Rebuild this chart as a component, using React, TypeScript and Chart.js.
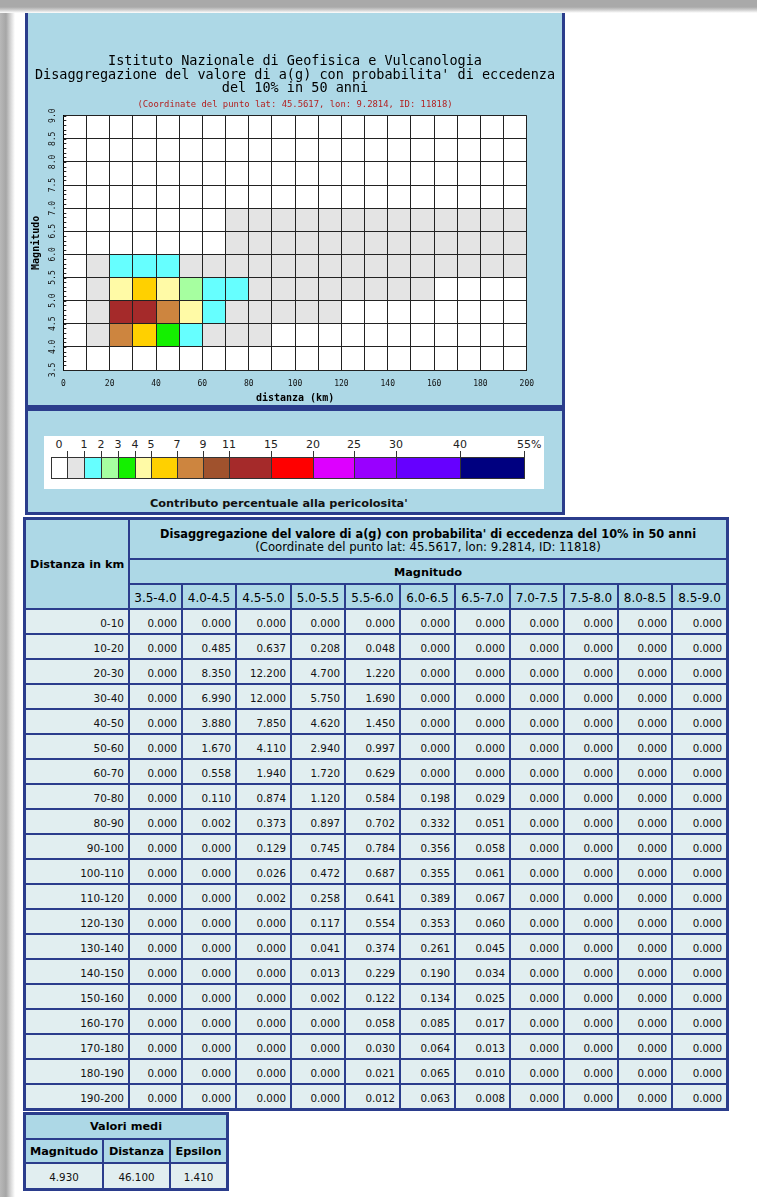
import { useEffect, useRef } from 'react';
import { Chart, registerables } from 'chart.js';

Chart.register(...registerables);

// ---- data -------------------------------------------------------------

const distanceBins = [
  '0-10', '10-20', '20-30', '30-40', '40-50', '50-60', '60-70', '70-80', '80-90', '90-100',
  '100-110', '110-120', '120-130', '130-140', '140-150', '150-160', '160-170', '170-180', '180-190', '190-200',
];

const magnitudeBins = [
  '3.5-4.0', '4.0-4.5', '4.5-5.0', '5.0-5.5', '5.5-6.0', '6.0-6.5',
  '6.5-7.0', '7.0-7.5', '7.5-8.0', '8.0-8.5', '8.5-9.0',
];

// percentage contribution, one row per distance bin, one column per magnitude bin
const contributionRows = [
  [0.000, 0.000, 0.000, 0.000, 0.000, 0.000, 0.000, 0.000, 0.000, 0.000, 0.000],
  [0.000, 0.485, 0.637, 0.208, 0.048, 0.000, 0.000, 0.000, 0.000, 0.000, 0.000],
  [0.000, 8.350, 12.200, 4.700, 1.220, 0.000, 0.000, 0.000, 0.000, 0.000, 0.000],
  [0.000, 6.990, 12.000, 5.750, 1.690, 0.000, 0.000, 0.000, 0.000, 0.000, 0.000],
  [0.000, 3.880, 7.850, 4.620, 1.450, 0.000, 0.000, 0.000, 0.000, 0.000, 0.000],
  [0.000, 1.670, 4.110, 2.940, 0.997, 0.000, 0.000, 0.000, 0.000, 0.000, 0.000],
  [0.000, 0.558, 1.940, 1.720, 0.629, 0.000, 0.000, 0.000, 0.000, 0.000, 0.000],
  [0.000, 0.110, 0.874, 1.120, 0.584, 0.198, 0.029, 0.000, 0.000, 0.000, 0.000],
  [0.000, 0.002, 0.373, 0.897, 0.702, 0.332, 0.051, 0.000, 0.000, 0.000, 0.000],
  [0.000, 0.000, 0.129, 0.745, 0.784, 0.356, 0.058, 0.000, 0.000, 0.000, 0.000],
  [0.000, 0.000, 0.026, 0.472, 0.687, 0.355, 0.061, 0.000, 0.000, 0.000, 0.000],
  [0.000, 0.000, 0.002, 0.258, 0.641, 0.389, 0.067, 0.000, 0.000, 0.000, 0.000],
  [0.000, 0.000, 0.000, 0.117, 0.554, 0.353, 0.060, 0.000, 0.000, 0.000, 0.000],
  [0.000, 0.000, 0.000, 0.041, 0.374, 0.261, 0.045, 0.000, 0.000, 0.000, 0.000],
  [0.000, 0.000, 0.000, 0.013, 0.229, 0.190, 0.034, 0.000, 0.000, 0.000, 0.000],
  [0.000, 0.000, 0.000, 0.002, 0.122, 0.134, 0.025, 0.000, 0.000, 0.000, 0.000],
  [0.000, 0.000, 0.000, 0.000, 0.058, 0.085, 0.017, 0.000, 0.000, 0.000, 0.000],
  [0.000, 0.000, 0.000, 0.000, 0.030, 0.064, 0.013, 0.000, 0.000, 0.000, 0.000],
  [0.000, 0.000, 0.000, 0.000, 0.021, 0.065, 0.010, 0.000, 0.000, 0.000, 0.000],
  [0.000, 0.000, 0.000, 0.000, 0.012, 0.063, 0.008, 0.000, 0.000, 0.000, 0.000],
];

// colour classes (percent); first colour is for an exact zero
const legendThresholds = [0, 1, 2, 3, 4, 5, 7, 9, 11, 15, 20, 25, 30, 40, 55];
const legendColors = [
  '#ffffff', '#e4e4e4', '#66ffff', '#a6ffa0', '#14f000', '#fffaa6', '#ffd000', '#cd853f',
  '#a0522d', '#a52a2a', '#ff0000', '#dd00ff', '#9900ff', '#6600ff', '#000080',
];

const meanMagnitude = 4.93;
const meanDistance = 46.1;
const meanEpsilon = 1.41;

const chartTitleLines = [
  'Istituto Nazionale di Geofisica e Vulcanologia',
  "Disaggregazione del valore di a(g) con probabilita' di eccedenza",
  'del 10% in 50 anni',
];
const pointInfo = '(Coordinate del punto lat: 45.5617, lon: 9.2814, ID: 11818)';
const tableTitle = "Disaggregazione del valore di a(g) con probabilita' di eccedenza del 10% in 50 anni";

// ---- styling ----------------------------------------------------------

const MONO = '"DejaVu Sans Mono", "Liberation Mono", monospace';
const SANS = '"DejaVu Sans", Verdana, sans-serif';
const BLUE = '#2b3d8c';
const HEAD_BG = '#add8e6';
const BODY_BG = '#e1eef0';

const legendBoxWidths = [16, 17, 17, 17, 17, 16, 26, 26, 26, 42, 42, 41, 42, 64, 64];
const magnitudeColWidths = [53, 54, 55, 54, 55, 55, 55, 54, 54, 54, 55];

function colorFor(v: number): string {
  if (v <= 0) return legendColors[0];
  for (let i = 0; i < legendThresholds.length - 1; i++) {
    if (v >= legendThresholds[i] && v < legendThresholds[i + 1]) return legendColors[i + 1];
  }
  return legendColors[legendColors.length - 1];
}

function HazardChart() {
  const ref = useRef<HTMLCanvasElement | null>(null);

  useEffect(() => {
    const canvas = ref.current;
    if (!canvas) return;

    const cells: any[] = [];
    distanceBins.forEach((dLabel, r) => {
      const [d0, d1] = dLabel.split('-').map(Number);
      magnitudeBins.forEach((mLabel, c) => {
        const [m0, m1] = mLabel.split('-').map(Number);
        cells.push({ x: (d0 + d1) / 2, y: (m0 + m1) / 2, d0, d1, m0, m1, v: contributionRows[r][c] });
      });
    });

    const cellPlugin = {
      id: 'cellFill',
      beforeDraw(chart: any) {
        const { ctx, chartArea } = chart;
        ctx.save();
        ctx.fillStyle = '#ffffff';
        ctx.fillRect(chartArea.left, chartArea.top, chartArea.right - chartArea.left, chartArea.bottom - chartArea.top);
        ctx.restore();
      },
      beforeDatasetsDraw(chart: any) {
        const { ctx } = chart;
        const xs = chart.scales.x;
        const ys = chart.scales.y;
        ctx.save();
        for (const c of chart.data.datasets[0].data) {
          const left = xs.getPixelForValue(c.d0);
          const right = xs.getPixelForValue(c.d1);
          const top = ys.getPixelForValue(c.m1);
          const bottom = ys.getPixelForValue(c.m0);
          ctx.fillStyle = colorFor(c.v);
          ctx.fillRect(left, top, right - left, bottom - top);
        }
        ctx.restore();
      },
      afterDraw(chart: any) {
        // short minor ticks every 0.1 along the magnitude axis
        const { ctx, chartArea } = chart;
        const ys = chart.scales.y;
        ctx.save();
        ctx.strokeStyle = '#222';
        ctx.lineWidth = 1;
        ctx.beginPath();
        for (let i = 0; i <= 55; i++) {
          const py = Math.round(ys.getPixelForValue(ys.min + i / 10)) + 0.5;
          ctx.moveTo(chartArea.left, py);
          ctx.lineTo(chartArea.left + 3, py);
        }
        ctx.stroke();
        ctx.restore();
      },
    };

    const chart = new Chart(canvas, {
      type: 'scatter',
      data: { datasets: [{ data: cells, pointRadius: 0, pointHoverRadius: 0 }] },
      options: {
        responsive: false,
        animation: false,
        events: [],
        layout: { padding: 0 },
        plugins: {
          legend: { display: false },
          tooltip: { enabled: false },
          title: {
            display: true,
            text: chartTitleLines,
            color: '#000',
            font: { family: MONO, size: 13.5, weight: 'normal', lineHeight: 0.985 },
            padding: { top: 42.2, bottom: 2 },
          },
          subtitle: {
            display: true,
            text: pointInfo,
            color: '#b22222',
            font: { family: MONO, size: 8.9, weight: 'normal', lineHeight: 1.2 },
            padding: { top: 2, bottom: 5.9 },
          },
        },
        scales: {
          x: {
            type: 'linear',
            min: 0,
            max: 200,
            afterFit(s: any) {
              s.height = 35;
              s.paddingLeft = 0;
              s.paddingRight = 35.2;
            },
            ticks: {
              stepSize: 10,
              autoSkip: false,
              minRotation: 0,
              maxRotation: 0,
              padding: 9.5,
              color: '#111',
              font: { family: MONO, size: 8 },
              callback: (v: any) => (Number(v) % 20 === 0 ? String(v) : ''),
            },
            grid: { color: '#222', lineWidth: 1, drawTicks: false, z: 1 },
            border: { color: '#000', z: 1 },
            title: {
              display: true,
              text: 'distanza (km)',
              color: '#000',
              font: { family: MONO, size: 10, weight: 'bold', lineHeight: 1.2 },
              padding: { top: 0, bottom: 0.4 },
            },
          },
          y: {
            type: 'linear',
            min: 3.5,
            max: 9,
            afterFit(s: any) {
              s.width = 35.3;
              s.paddingTop = 0;
              s.paddingBottom = 0;
            },
            ticks: {
              stepSize: 0.5,
              autoSkip: false,
              minRotation: 90,
              maxRotation: 90,
              crossAlign: 'center',
              padding: 3.3,
              color: '#111',
              font: { family: MONO, size: 8 },
              callback: (v: any) => Number(v).toFixed(1),
            },
            grid: { color: '#222', lineWidth: 1, drawTicks: false, z: 1 },
            border: { color: '#000', z: 1 },
            title: {
              display: true,
              text: 'Magnitudo',
              color: '#000',
              font: { family: MONO, size: 10, weight: 'bold', lineHeight: 1.2 },
              padding: { top: 2.7, bottom: 0 },
            },
          },
        },
      } as any,
      plugins: [cellPlugin],
    });

    return () => chart.destroy();
  }, []);

  return (
    <canvas
      ref={ref}
      width={534}
      height={392}
      style={{ position: 'absolute', left: 28, top: 13, width: 534, height: 392, background: HEAD_BG }}
    />
  );
}

function ColorLegend() {
  const bounds: number[] = [51];
  legendBoxWidths.forEach((w) => bounds.push(bounds[bounds.length - 1] + w));
  const labelY = 438;
  return (
    <>
      <div style={{ position: 'absolute', left: 44, top: 436, width: 500, height: 53, background: '#fff' }} />
      {legendColors.map((c, i) => (
        <div
          key={'box' + i}
          style={{
            position: 'absolute',
            left: bounds[i],
            top: 457,
            width: legendBoxWidths[i] + 1,
            height: 22,
            boxSizing: 'border-box',
            background: c,
            border: '1px solid #333',
          }}
        />
      ))}
      {bounds.slice(1).map((x, i) => (
        <div key={'tick' + i} style={{ position: 'absolute', left: x, top: 451, width: 1, height: 6, background: '#333' }} />
      ))}
      <div
        style={{
          position: 'absolute', left: (bounds[0] + bounds[1]) / 2, top: labelY, transform: 'translateX(-50%)',
          fontFamily: SANS, fontSize: 11, lineHeight: '13px', color: '#222', whiteSpace: 'nowrap',
        }}
      >
        {legendThresholds[0]}
      </div>
      {legendThresholds.slice(1).map((t, i) => {
        const last = i === legendThresholds.length - 2;
        return (
          <div
            key={'lab' + i}
            style={{
              position: 'absolute',
              left: last ? bounds[i + 2] - 7 : bounds[i + 2],
              top: labelY,
              transform: last ? undefined : 'translateX(-50%)',
              fontFamily: SANS, fontSize: 11, lineHeight: '13px', color: '#222', whiteSpace: 'nowrap',
            }}
          >
            {last ? `${t}%` : t}
          </div>
        );
      })}
      <div
        style={{
          position: 'absolute', left: 150, top: 497, fontFamily: SANS, fontSize: 11.3, fontWeight: 'bold',
          lineHeight: '14px', color: '#111', whiteSpace: 'nowrap',
        }}
      >
        Contributo percentuale alla pericolosita'
      </div>
    </>
  );
}

const cellBase: any = {
  boxSizing: 'border-box',
  borderRight: `2px solid ${BLUE}`,
  borderBottom: `2px solid ${BLUE}`,
  padding: '0 4px',
  whiteSpace: 'nowrap',
  overflow: 'hidden',
};

function DisaggregationTable() {
  const head = { ...cellBase, background: HEAD_BG, fontFamily: SANS, color: '#000', textAlign: 'center' as const };
  const body = {
    ...cellBase, background: BODY_BG, fontFamily: SANS, color: '#111', fontSize: 10.3,
    textAlign: 'right' as const, paddingTop: 2,
  };
  return (
    <table
      style={{
        position: 'absolute', left: 23, top: 517, width: 706, boxSizing: 'border-box',
        borderCollapse: 'separate', borderSpacing: 0, tableLayout: 'fixed',
        borderLeft: `3px solid ${BLUE}`, borderTop: `3px solid ${BLUE}`,
        borderRight: `1px solid ${BLUE}`, borderBottom: `1px solid ${BLUE}`,
      }}
    >
      <colgroup>
        <col style={{ width: 104 }} />
        {magnitudeColWidths.map((w, i) => <col key={i} style={{ width: w }} />)}
      </colgroup>
      <tbody>
        <tr style={{ height: 40 }}>
          <th rowSpan={3} style={{ ...head, fontSize: 11.3, fontWeight: 'bold' }}>Distanza in km</th>
          <th colSpan={11} style={{ ...head, paddingTop: 2 }}>
            <div style={{ fontSize: 11.4, fontWeight: 'bold', lineHeight: '14px' }}>{tableTitle}</div>
            <div style={{ fontSize: 11.7, fontWeight: 'normal', lineHeight: '13px' }}>{pointInfo}</div>
          </th>
        </tr>
        <tr style={{ height: 25 }}>
          <th colSpan={11} style={{ ...head, fontSize: 11.3, fontWeight: 'bold', paddingTop: 1 }}>Magnitudo</th>
        </tr>
        <tr style={{ height: 25 }}>
          {magnitudeBins.map((m) => (
            <th key={m} style={{ ...head, fontSize: 12, fontWeight: 'normal', padding: '2px 0 0 0' }}>{m}</th>
          ))}
        </tr>
        {distanceBins.map((d, r) => (
          <tr key={d} style={{ height: 25 }}>
            <td style={{ ...body, fontSize: 10.5 }}>{d}</td>
            {contributionRows[r].map((v, c) => (
              <td key={c} style={body}>{v.toFixed(3)}</td>
            ))}
          </tr>
        ))}
      </tbody>
    </table>
  );
}

function MeansTable() {
  const head = {
    ...cellBase, background: HEAD_BG, fontFamily: SANS, color: '#000', textAlign: 'center' as const,
    fontWeight: 'bold', fontSize: 11.3, padding: 0,
  };
  const body = {
    ...cellBase, background: BODY_BG, fontFamily: SANS, color: '#111', textAlign: 'center' as const,
    fontSize: 10.3, padding: '2px 0 0 0',
  };
  return (
    <table
      style={{
        position: 'absolute', left: 23, top: 1112, width: 206, boxSizing: 'border-box',
        borderCollapse: 'separate', borderSpacing: 0, tableLayout: 'fixed',
        borderLeft: `3px solid ${BLUE}`, borderTop: `3px solid ${BLUE}`,
        borderRight: `1px solid ${BLUE}`, borderBottom: `1px solid ${BLUE}`,
      }}
    >
      <colgroup>
        <col style={{ width: 78 }} />
        <col style={{ width: 67 }} />
        <col style={{ width: 57 }} />
      </colgroup>
      <tbody>
        <tr style={{ height: 25 }}>
          <th colSpan={3} style={head}>Valori medi</th>
        </tr>
        <tr style={{ height: 24 }}>
          <th style={head}>Magnitudo</th>
          <th style={head}>Distanza</th>
          <th style={head}>Epsilon</th>
        </tr>
        <tr style={{ height: 26 }}>
          <td style={body}>{meanMagnitude.toFixed(3)}</td>
          <td style={body}>{meanDistance.toFixed(3)}</td>
          <td style={body}>{meanEpsilon.toFixed(3)}</td>
        </tr>
      </tbody>
    </table>
  );
}

export default function App() {
  return (
    <div style={{ position: 'absolute', left: 0, top: 0, width: 757, height: 1197, overflow: 'hidden', background: '#fff' }}>
      <div
        style={{
          position: 'absolute', left: 0, top: 0, width: 15, height: 1197,
          background: 'linear-gradient(to right, #b8b8b8 0px, #a6a6a6 6px, #dadada 11px, #ffffff 15px)',
        }}
      />
      <div
        style={{
          position: 'absolute', left: 25, top: 0, width: 540, height: 408, boxSizing: 'border-box',
          background: HEAD_BG, border: `3px solid ${BLUE}`,
        }}
      />
      <HazardChart />
      <div
        style={{
          position: 'absolute', left: 25, top: 408, width: 540, height: 107, boxSizing: 'border-box',
          background: HEAD_BG, border: `3px solid ${BLUE}`,
        }}
      />
      <ColorLegend />
      <DisaggregationTable />
      <MeansTable />
      <div
        style={{
          position: 'absolute', left: 0, top: 0, width: 757, height: 13,
          background: 'linear-gradient(to bottom, #a9a9a9 0px, #a9a9a9 7px, #d0d0d0 10px, #ffffff 13px)',
        }}
      />
    </div>
  );
}
